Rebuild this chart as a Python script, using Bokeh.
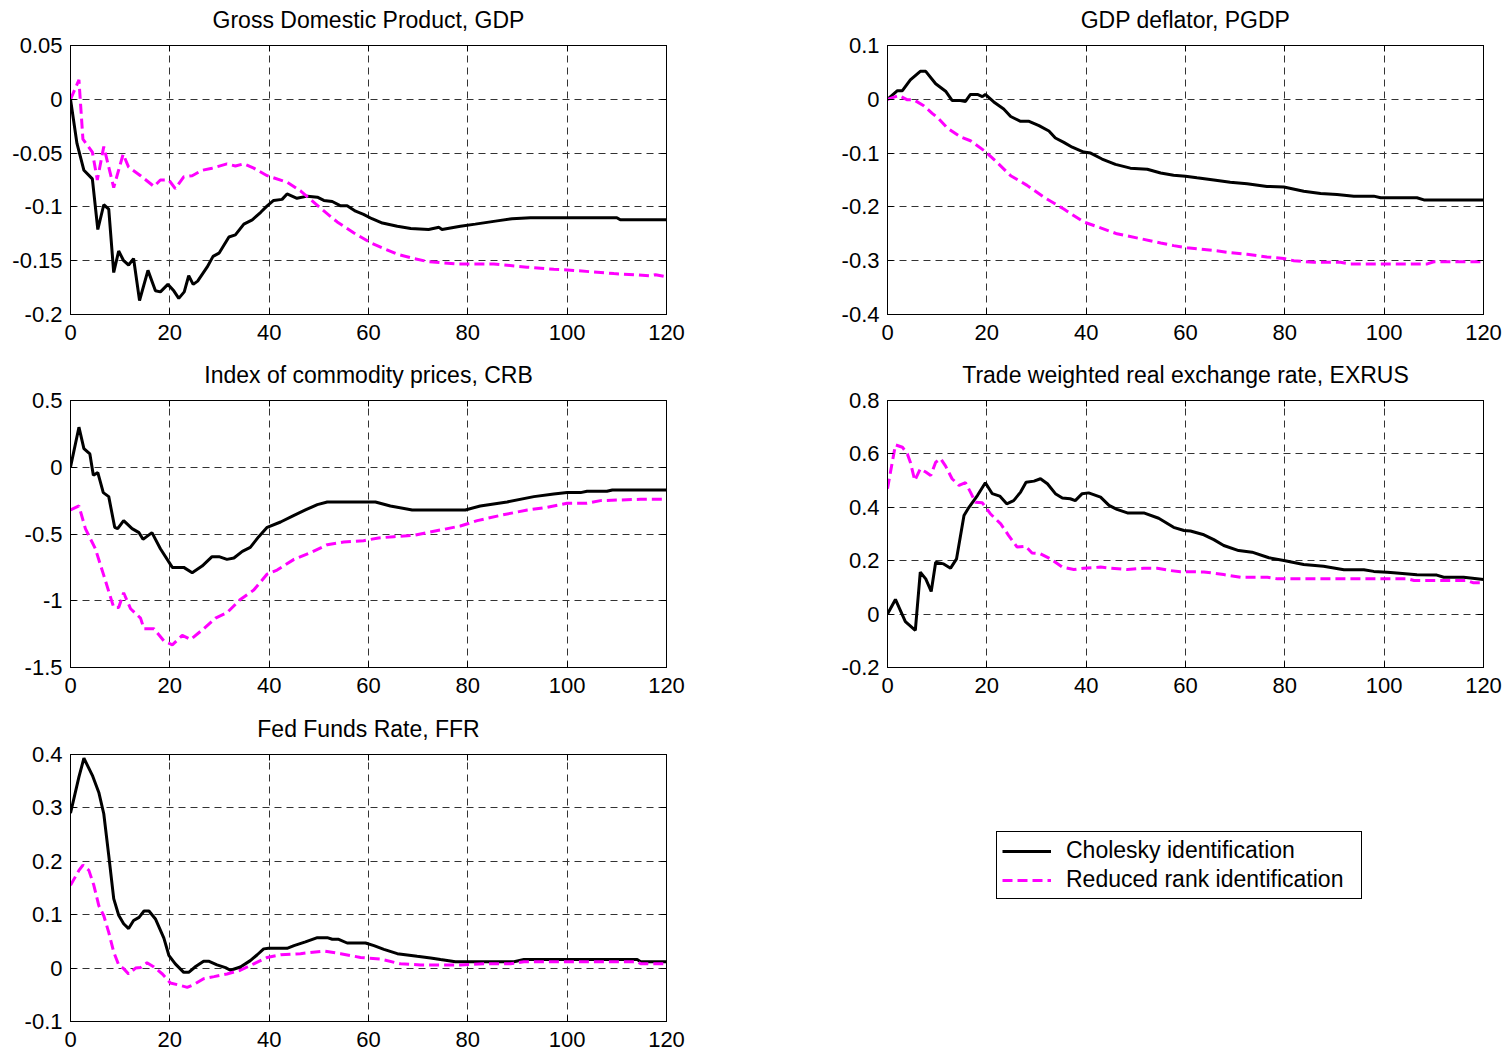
from bokeh.plotting import figure
from bokeh.models import (Range1d, FixedTicker, LinearAxis, CustomJSTickFormatter,
                          Legend, LegendItem, CustomLabelingPolicy)
from bokeh.layouts import column, row
from bokeh.embed import file_html
from bokeh.resources import INLINE

# ---------------- data ----------------
x_ticks = [0, 20, 40, 60, 80, 100, 120]

gdp_chol_x = [0, 1.3, 2.7, 4.4, 5.5, 6.7, 7.7, 8.7, 9.7, 10.7, 11.7, 12.7, 13.9, 15.6, 17.1, 18.1, 19.6,
              20.8, 21.8, 22.9, 23.8, 24.7, 25.6, 27.5, 28.7, 29.9, 31.9, 33.2, 34.9, 36.6, 38.3, 39.6,
              40.9, 42.6, 43.6, 45.6, 47.7, 49.7, 51, 52.7, 54.4, 55.7, 57.4, 59, 60.7, 62.8, 65.8, 68.5,
              72.1, 74.2, 74.8, 78.5, 81.5, 85.9, 88.9, 92.6, 110, 110.7, 120]
gdp_chol_y = [0, -0.041, -0.066, -0.074, -0.121, -0.098, -0.102, -0.161, -0.141, -0.150, -0.154, -0.148,
              -0.187, -0.159, -0.178, -0.179, -0.172, -0.178, -0.185, -0.179, -0.164, -0.172, -0.169,
              -0.156, -0.146, -0.143, -0.128, -0.126, -0.116, -0.112, -0.105, -0.099, -0.094, -0.093,
              -0.088, -0.092, -0.090, -0.091, -0.094, -0.095, -0.099, -0.099, -0.104, -0.107, -0.111,
              -0.115, -0.118, -0.120, -0.121, -0.119, -0.121, -0.118, -0.116, -0.113, -0.111, -0.110,
              -0.110, -0.112, -0.112]
gdp_rr_x = [0, 1.7, 2.5, 4.4, 5.4, 6.7, 8.7, 10.6, 11.7, 14.1, 16.8, 18.1, 19.8, 21.1, 22.8, 24.5, 26.5,
            28.5, 31.5, 33.2, 34.9, 36.9, 39.6, 43.6, 46.3, 50.3, 53.7, 57, 60.7, 65.8, 69.1, 72.1, 77.8,
            85.2, 91.9, 97.3, 101.3, 109.4, 116.8, 117.8, 120]
gdp_rr_y = [0, 0.018, -0.037, -0.049, -0.075, -0.044, -0.082, -0.051, -0.063, -0.071, -0.081, -0.075,
            -0.075, -0.083, -0.072, -0.071, -0.066, -0.064, -0.060, -0.062, -0.060, -0.064, -0.071,
            -0.077, -0.085, -0.101, -0.114, -0.124, -0.134, -0.144, -0.148, -0.151, -0.153, -0.153,
            -0.156, -0.158, -0.159, -0.162, -0.164, -0.163, -0.165]

pgdp_chol_x = [0, 2, 3, 4.6, 6.6, 7.7, 9.7, 11.7, 13, 14.4, 15.7, 16.7, 18.1, 19.1, 19.7, 21.4, 23.4,
               24.8, 26.8, 28.5, 30.5, 32.5, 33.8, 35.5, 37.2, 39.5, 40.9, 43.2, 45.9, 48.9, 52.3, 55,
               57.6, 60, 62.3, 65.7, 69, 72.4, 76.4, 79.8, 83.8, 87.2, 90.5, 93.9, 97.9, 99.3, 106.6,
               108, 120]
pgdp_chol_y = [0, 0.016, 0.016, 0.036, 0.052, 0.052, 0.029, 0.015, -0.002, -0.002, -0.004, 0.009, 0.009,
               0.005, 0.009, -0.005, -0.018, -0.032, -0.041, -0.041, -0.049, -0.059, -0.072, -0.080,
               -0.089, -0.098, -0.100, -0.111, -0.121, -0.128, -0.130, -0.137, -0.141, -0.143, -0.146,
               -0.150, -0.154, -0.157, -0.162, -0.163, -0.171, -0.175, -0.177, -0.180, -0.180, -0.183,
               -0.183, -0.187, -0.187]
pgdp_rr_x = [0, 2.3, 4, 5.3, 7.3, 9, 10.3, 12, 14.7, 16.7, 19.4, 21.7, 24.8, 28.1, 31.5, 35.5, 39.5,
             42.9, 46.2, 50.9, 55, 57.6, 60.3, 62.5, 65.7, 69, 72.4, 76.4, 79.8, 81.8, 85.8, 91.2, 93.2,
             108.7, 110, 120]
pgdp_rr_y = [0, 0.007, -0.001, -0.001, -0.012, -0.026, -0.036, -0.053, -0.070, -0.077, -0.095, -0.114,
             -0.142, -0.160, -0.182, -0.204, -0.228, -0.239, -0.250, -0.259, -0.267, -0.272, -0.276,
             -0.278, -0.281, -0.285, -0.288, -0.293, -0.296, -0.300, -0.303, -0.303, -0.306, -0.306,
             -0.302, -0.302]

crb_chol_x = [0, 1.7, 2.7, 3.9, 4.6, 5.5, 6.6, 7.7, 8.9, 9.5, 10.7, 12.4, 13.8, 14.6, 16.4, 18.1, 20.5,
              22.8, 24.5, 26.5, 28.5, 29.9, 31.5, 32.9, 34.6, 36.2, 37.9, 39.6, 42.3, 45, 47.3, 49.7,
              51.7, 61.4, 64.4, 68.8, 79.5, 82.5, 87.9, 93.3, 97.3, 100, 102.7, 104, 108, 109.1, 120]
crb_chol_y = [0, 0.30, 0.14, 0.10, -0.06, -0.04, -0.19, -0.22, -0.45, -0.46, -0.40, -0.46, -0.49, -0.54,
              -0.49, -0.61, -0.75, -0.75, -0.79, -0.74, -0.67, -0.67, -0.69, -0.68, -0.63, -0.60, -0.52,
              -0.45, -0.41, -0.36, -0.32, -0.28, -0.26, -0.26, -0.29, -0.32, -0.32, -0.29, -0.26, -0.22,
              -0.20, -0.19, -0.19, -0.18, -0.18, -0.17, -0.17]
crb_rr_x = [0, 1.7, 3, 5, 6.7, 8.7, 9.7, 10.7, 12.1, 14.1, 14.8, 16.8, 18.8, 20.5, 22.5, 24.2, 26.8,
            29.2, 31.5, 34.2, 36.9, 39.6, 41.6, 45, 48.3, 51.7, 55, 59, 62, 65.1, 69.1, 74.5, 78.5, 81.9,
            86.6, 92, 96, 100, 104, 106.7, 114.8, 120]
crb_rr_y = [-0.32, -0.29, -0.46, -0.61, -0.81, -1.05, -1.05, -0.94, -1.06, -1.13, -1.21, -1.21, -1.30,
            -1.33, -1.26, -1.29, -1.21, -1.13, -1.09, -0.99, -0.92, -0.80, -0.77, -0.69, -0.64, -0.58,
            -0.56, -0.55, -0.53, -0.52, -0.51, -0.47, -0.44, -0.40, -0.36, -0.32, -0.30, -0.27, -0.27,
            -0.25, -0.24, -0.24]

exrus_chol_x = [0, 1.6, 3.6, 5.6, 6.6, 7.7, 8.8, 9.7, 11.3, 12.7, 13.9, 15.4, 16.4, 18.1, 19.7, 21.1,
                22.6, 24, 25.4, 26.8, 27.9, 29.5, 30.8, 32.2, 33.8, 35.2, 36.8, 37.8, 39.2, 40.5, 42.9,
                44.6, 46.2, 48.3, 51.6, 54.6, 57.6, 59.7, 61, 63.7, 65.7, 67.7, 70.7, 73.4, 76.8, 79.8,
                83.8, 87.8, 91.9, 95.9, 97.9, 100.6, 101.9, 106.6, 110.6, 112, 116, 120]
exrus_chol_y = [0, 0.055, -0.028, -0.061, 0.157, 0.132, 0.085, 0.194, 0.188, 0.172, 0.207, 0.369, 0.400,
                0.444, 0.492, 0.451, 0.442, 0.413, 0.425, 0.457, 0.494, 0.498, 0.507, 0.488, 0.451,
                0.435, 0.432, 0.425, 0.451, 0.454, 0.438, 0.407, 0.392, 0.379, 0.379, 0.359, 0.325,
                0.313, 0.311, 0.297, 0.279, 0.257, 0.238, 0.232, 0.211, 0.201, 0.186, 0.179, 0.166,
                0.166, 0.160, 0.157, 0.155, 0.147, 0.146, 0.138, 0.138, 0.130]
exrus_rr_x = [0, 1.6, 3, 4, 4.6, 5.5, 6.6, 7.7, 8.7, 9.7, 10.7, 11.7, 13, 14.4, 15.7, 16.7, 17.7, 19.1,
              20.7, 22.8, 24.4, 26.1, 27.8, 29.1, 30.8, 32.8, 35.2, 37.5, 39.5, 42.9, 44.9, 48.3, 51.6,
              54.3, 57, 59, 63.7, 67.7, 71.1, 76.5, 78.5, 104.7, 106, 116.7, 118, 120]
exrus_rr_y = [0.47, 0.634, 0.625, 0.600, 0.569, 0.500, 0.544, 0.532, 0.519, 0.569, 0.582, 0.554, 0.507,
              0.482, 0.492, 0.457, 0.419, 0.417, 0.376, 0.338, 0.294, 0.251, 0.254, 0.229, 0.226, 0.207,
              0.176, 0.167, 0.172, 0.176, 0.172, 0.167, 0.172, 0.172, 0.163, 0.159, 0.158, 0.148, 0.138,
              0.138, 0.132, 0.132, 0.126, 0.126, 0.117, 0.117]

ffr_chol_x = [0, 1.7, 2.7, 4.4, 5.7, 6.7, 7.7, 8.7, 9.7, 10.7, 11.7, 12.7, 13.8, 14.8, 15.8, 17.1, 18.8,
              19.8, 21.1, 22.8, 23.8, 25.2, 26.8, 27.8, 29.5, 31.2, 32.2, 34.2, 36.2, 37.6, 38.9, 39.9,
              43.6, 45, 47.3, 49.7, 51.7, 52.7, 54, 55.7, 59.4, 61.1, 63.1, 65.8, 69.8, 72.5, 74.5, 77.5,
              89.3, 91.3, 114.1, 114.8, 120]
ffr_chol_y = [0.29, 0.358, 0.393, 0.361, 0.329, 0.289, 0.211, 0.130, 0.099, 0.083, 0.074, 0.089, 0.095,
              0.107, 0.107, 0.092, 0.056, 0.024, 0.008, -0.008, -0.008, 0.003, 0.013, 0.013, 0.006, 0.001,
              -0.004, 0.002, 0.014, 0.025, 0.036, 0.037, 0.037, 0.042, 0.049, 0.057, 0.057, 0.054, 0.054,
              0.047, 0.047, 0.042, 0.035, 0.027, 0.022, 0.019, 0.016, 0.012, 0.012, 0.016, 0.016, 0.012,
              0.012]
ffr_rr_x = [0, 1.7, 2.5, 3.7, 4.7, 5.7, 6.7, 7.7, 8.7, 9.7, 10.7, 11.7, 13.1, 14.1, 15.4, 16.8, 18.5,
            20.1, 21.5, 23.5, 24.8, 26.8, 28.9, 31.5, 34.2, 36.9, 39.6, 42.3, 46.3, 51, 54.4, 58.4, 62.4,
            66.4, 70.5, 78.5, 83.2, 88.6, 91.3, 114.1, 114.8, 120]
ffr_rr_y = [0.155, 0.183, 0.193, 0.183, 0.155, 0.117, 0.098, 0.067, 0.030, 0.006, -0.001, -0.011, 0.000,
            0.001, 0.010, 0.002, -0.011, -0.028, -0.031, -0.036, -0.031, -0.020, -0.016, -0.011, -0.004,
            0.008, 0.020, 0.025, 0.027, 0.032, 0.027, 0.020, 0.017, 0.008, 0.006, 0.006, 0.008, 0.008,
            0.012, 0.012, 0.008, 0.008]

series_labels = ["Cholesky identification", "Reduced rank identification"]

FONT = "Liberation Sans"
TICK_FS = "22px"
TEXT_FS = "23px"
CHOL_COLOR = "black"
RR_COLOR = "#ff00ff"
RR_DASH = "10 5"

fmt = CustomJSTickFormatter(code="return String(parseFloat(tick.toFixed(4)));")
no_labels = CustomLabelingPolicy(code="""
const all = Array.from(indices);
for (const i of all) indices.unset(i);
return indices;
""")


def style_axis(ax, ticks, labels=True, standoff=8):
    ax.ticker = FixedTicker(ticks=ticks)
    ax.formatter = fmt
    ax.major_tick_in = 6
    ax.major_tick_out = 0
    ax.minor_tick_line_color = None
    ax.major_tick_line_color = "black"
    ax.axis_line_color = "black"
    ax.major_label_text_font = FONT
    ax.major_label_text_font_size = TICK_FS
    ax.major_label_text_color = "black"
    ax.major_label_standoff = standoff
    if not labels:
        ax.major_label_policy = no_labels
        ax.major_label_text_font_size = "0px"


def make_fig(title, w, h, bl, br, bt, bb, yr, yticks, xstand=10):
    p = figure(width=w, height=h, x_range=Range1d(0, 120), y_range=Range1d(*yr),
               output_backend="svg", toolbar_location=None, title=title,
               min_border_left=bl, min_border_right=br, min_border_top=bt, min_border_bottom=bb)
    p.title.text_font = FONT
    p.title.text_font_size = TEXT_FS
    p.title.text_font_style = "normal"
    p.title.text_color = "black"
    p.title.align = "center"
    p.title.standoff = 0
    p.outline_line_color = "black"
    p.outline_line_alpha = 1
    style_axis(p.xaxis[0], x_ticks, standoff=xstand)
    style_axis(p.yaxis[0], yticks, standoff=8)
    # inward ticks on the top and right edges of the box
    top = LinearAxis()
    style_axis(top, x_ticks, labels=False, standoff=0)
    right = LinearAxis()
    style_axis(right, yticks, labels=False, standoff=0)
    p.add_layout(top, "above")
    p.add_layout(right, "right")
    # invisible spacer between the box and the title
    gap = LinearAxis()
    style_axis(gap, x_ticks, labels=False, standoff=0)
    gap.major_tick_in = 0
    gap.major_tick_out = 13
    gap.major_tick_line_color = None
    gap.axis_line_color = None
    p.add_layout(gap, "above")
    for g in (p.xgrid[0], p.ygrid[0]):
        g.grid_line_color = "#333333"
        g.grid_line_dash = "7 5"
        g.grid_line_width = 1
    p.background_fill_color = "white"
    p.border_fill_color = "white"
    return p


def add_lines(p, xc, yc, xr, yr_):
    r1 = p.line(xc, yc, line_color=CHOL_COLOR, line_width=3)
    r2 = p.line(xr, yr_, line_color=RR_COLOR, line_width=3, line_dash=RR_DASH)
    return r1, r2


LW, RW = 825, 682
p1 = make_fig("Gross Domestic Product, GDP", LW, 355, 70, 159, 45, 41, (-0.2, 0.05),
              [-0.2, -0.15, -0.1, -0.05, 0, 0.05])
add_lines(p1, gdp_chol_x, gdp_chol_y, gdp_rr_x, gdp_rr_y)
p2 = make_fig("GDP deflator, PGDP", RW, 355, 62, 24, 45, 41, (-0.4, 0.1),
              [-0.4, -0.3, -0.2, -0.1, 0, 0.1])
add_lines(p2, pgdp_chol_x, pgdp_chol_y, pgdp_rr_x, pgdp_rr_y)
p3 = make_fig("Index of commodity prices, CRB", LW, 353, 70, 159, 45, 41, (-1.5, 0.5),
              [-1.5, -1, -0.5, 0, 0.5])
add_lines(p3, crb_chol_x, crb_chol_y, crb_rr_x, crb_rr_y)
p4 = make_fig("Trade weighted real exchange rate, EXRUS", RW, 353, 62, 24, 45, 41, (-0.2, 0.8),
              [-0.2, 0, 0.2, 0.4, 0.6, 0.8])
add_lines(p4, exrus_chol_x, exrus_chol_y, exrus_rr_x, exrus_rr_y)
p5 = make_fig("Fed Funds Rate, FFR", LW, 345, 70, 159, 46, 32, (-0.1, 0.4),
              [-0.1, 0, 0.1, 0.2, 0.3, 0.4])
add_lines(p5, ffr_chol_x, ffr_chol_y, ffr_rr_x, ffr_rr_y)

# legend panel: the FFR series are drawn here off-screen only to carry the legend samples
p6 = figure(width=RW, height=345, x_range=Range1d(0, 120), y_range=Range1d(10, 11),
            x_axis_type=None, y_axis_type=None, output_backend="svg", toolbar_location=None,
            min_border=0)
p6.outline_line_color = None
p6.grid.visible = False
l1, l2 = add_lines(p6, ffr_chol_x, ffr_chol_y, ffr_rr_x, ffr_rr_y)
leg = Legend(items=[LegendItem(label=series_labels[0], renderers=[l1]),
                    LegendItem(label=series_labels[1], renderers=[l2])],
             location=(171, 122))
leg.label_text_font = FONT
leg.label_text_font_size = TEXT_FS
leg.label_text_color = "black"
leg.border_line_color = "black"
leg.border_line_width = 1
leg.border_line_alpha = 1
leg.background_fill_color = "white"
leg.background_fill_alpha = 1
leg.padding = 5
leg.spacing = 2
leg.margin = 0
leg.label_height = 24
leg.label_width = 290
leg.glyph_height = 24
leg.glyph_width = 49
leg.label_standoff = 15
p6.add_layout(leg)

layout = column(row(p1, p2), row(p3, p4), row(p5, p6))
open("out.html", "w").write(file_html(layout, INLINE))
